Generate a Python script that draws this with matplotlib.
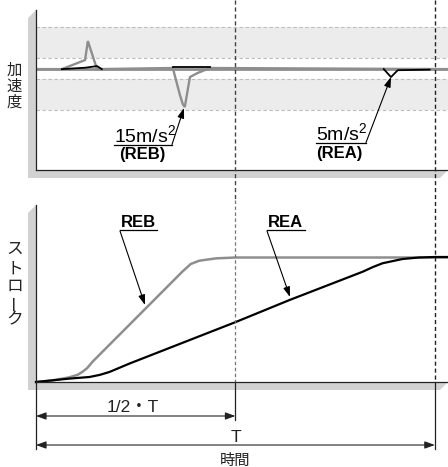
import matplotlib

matplotlib.use("Agg")
import matplotlib.pyplot as plt
from matplotlib.patches import Polygon
from matplotlib.transforms import blended_transform_factory

plt.rcParams["font.family"] = ["Liberation Sans", "Noto Sans CJK JP"]
plt.rcParams["mathtext.fontset"] = "custom"
plt.rcParams["mathtext.rm"] = "Liberation Sans"
plt.rcParams["mathtext.it"] = "Liberation Sans"
plt.rcParams["lines.scale_dashes"] = False

# ---- data (time in units of T, accel in m/s^2, stroke normalised) ----
T_HALF, T_FULL, T_END = 0.5, 1.0, 1.033

reb_acc_t = [0, 0.065, 0.123, 0.130, 0.153, 0.343, 0.361, 0.368, 0.373, 0.386, 0.404, 0.436, 1.033]
reb_acc = [0, 0, 3.3, 10.2, 0, 0.4, -9.5, -12.7, -13.8, -2.9, -1.5, 0.4, 0]
rea_acc_t = [[0.065, 0.123, 0.153, 0.165], [0.343, 0.436], [0.872, 0.890, 0.907, 0.987]]
rea_acc = [[0, 0.5, 1.1, 0], [0.7, 0.7], [0, -2.9, -0.4, -0.2]]
bands = [(4.0, 15.3), (-14.9, -3.6)]

reb_t = [0, 0.04, 0.083, 0.105, 0.117, 0.128, 0.142, 0.367, 0.388, 0.409, 0.451, 0.501, 1.033]
reb_s = [0, 0.012, 0.037, 0.058, 0.083, 0.11, 0.163, 0.883, 0.944, 0.970, 0.989, 0.996, 0.996]
rea_t = [0, 0.083, 0.134, 0.16, 0.184, 0.234, 0.501, 0.635, 0.819, 0.845, 0.869, 0.919, 0.96, 1.0, 1.033]
rea_s = [0, 0.027, 0.04, 0.057, 0.08, 0.147, 0.48, 0.655, 0.882, 0.92, 0.95, 0.984, 0.996, 1.0, 1.0]

GRAY, SHADOW, BAND = "#8e8e8e", "#d2d2d2", "#ececec"
W, H = 448, 467

fig = plt.figure(figsize=(W / 100, H / 100), dpi=100)
bg = fig.add_axes([0, 0, 1, 1], zorder=0)
bg.set_xlim(0, W)
bg.set_ylim(H, 0)
bg.axis("off")
# slab shadows behind both frames
for top, bot in ((10, 170), (205, 382)):
    bg.add_patch(Polygon([(36, top), (28, top + 8), (28, bot + 8), (440, bot + 8),
                          (448, bot), (36, bot)], closed=True, color=SHADOW, lw=0))


def frame(ax):
    ax.patch.set_visible(False)
    for k in ("top", "right"):
        ax.spines[k].set_visible(False)
    for k in ("left", "bottom"):
        ax.spines[k].set_color("#222")
        ax.spines[k].set_linewidth(0.9)
    ax.set_xticks([])
    ax.set_yticks([])
    ax.set_xlim(0, T_END)


# ---- acceleration panel ----
ax_a = fig.add_axes([36 / W, 1 - 170 / H, 412 / W, 160 / H], zorder=1)
frame(ax_a)
ax_a.set_ylim(-36.7, 21.5)
for lo, hi in bands:
    ax_a.axhspan(lo, hi, color=BAND, lw=0)
    for v in (lo, hi):
        ax_a.axhline(v, color="#bdbdbd", lw=0.8, ls=(0, (2.5, 1.8)))
ax_a.axhline(0, color=GRAY, lw=2.0)
ax_a.plot(reb_acc_t, reb_acc, color=GRAY, lw=1.7, solid_joinstyle="miter")
for tt, aa in zip(rea_acc_t, rea_acc):
    ax_a.plot(tt, aa, color="black", lw=1.3)

# ---- stroke panel ----
ax_s = fig.add_axes([36 / W, 1 - 382 / H, 412 / W, 177 / H], zorder=1)
frame(ax_s)
ax_s.set_ylim(0, 1.416)
ax_s.plot(reb_t, reb_s, color=GRAY, lw=1.8, clip_on=False)
ax_s.plot(rea_t, rea_s, color="black", lw=1.6, clip_on=False)

# ---- overlay: guides, dimensions, labels ----
ov = fig.add_axes([0, 0, 1, 1], zorder=2)
ov.set_xlim(0, W)
ov.set_ylim(H, 0)
ov.axis("off")
tr = blended_transform_factory(ax_s.transData, ov.transData)

ov.plot([T_HALF, T_HALF], [0, 200], transform=tr, color="#444", lw=1.0, ls=(0, (3, 2)))
ov.plot([T_HALF, T_HALF], [200, 382], transform=tr, color="#777", lw=0.9, ls=(0, (2.5, 1.8)))
ov.plot([T_FULL, T_FULL], [0, 382], transform=tr, color="#222", lw=1.0, ls=(0, (3, 2)))
ov.plot([0, 0], [382, 449], transform=tr, color="#222", lw=0.9)
ov.plot([T_HALF, T_HALF], [382, 420], transform=tr, color="#222", lw=0.9)
ov.plot([T_FULL, T_FULL], [382, 449], transform=tr, color="#222", lw=0.9)

dim = dict(arrowstyle="<|-|>,head_length=0.55,head_width=0.2", color="#222", lw=0.8,
           mutation_scale=11, shrinkA=0, shrinkB=0)
ov.annotate("", xy=(T_HALF, 416), xytext=(0, 416), xycoords=tr, textcoords=tr, arrowprops=dim)
ov.annotate("", xy=(T_FULL, 445), xytext=(0, 445), xycoords=tr, textcoords=tr, arrowprops=dim)
ov.text(133, 412, "1/2・T", fontsize=12.5, ha="center", va="baseline", color="#222")
ov.text(236, 442, "T", fontsize=12.5, ha="center", va="baseline", color="#222")
ov.text(235, 461, "時間", fontsize=11, ha="center", va="center", color="#222")

# vertical axis titles
for ch, y in zip("加速度", (71, 87, 102.5)):
    ov.text(14.5, y, ch, fontsize=11, ha="center", va="center", color="#222")
for ch, y in zip("ストローク", (249.5, 269, 286, 303, 320)):
    ov.text(14.5, y, ch, fontsize=12, ha="center", va="center", color="#222",
            rotation=90 if ch == "ー" else 0)

lead = dict(arrowstyle="-|>,head_length=0.6,head_width=0.2", color="black", lw=0.8,
            mutation_scale=10, shrinkA=0, shrinkB=0)


def callout(x0, x1, y_line, tip):
    ov.plot([x0, x1], [y_line, y_line], color="black", lw=0.9)
    ov.annotate("", xy=tip, xytext=(x1, y_line), arrowprops=lead)


# accel callouts
ov.text(114, 142, "15m/s$^{2}$", fontsize=14, ha="left", va="baseline")
ov.text(119, 159, "(REB)", fontsize=12, fontweight="bold", ha="left", va="baseline")
callout(114, 172, 144.5, (184, 108))
ov.text(316, 140, "5m/s$^{2}$", fontsize=14, ha="left", va="baseline")
ov.text(316, 158, "(REA)", fontsize=12, fontweight="bold", ha="left", va="baseline")
callout(316, 366, 142.5, (391, 77))

# stroke callouts
for x0, x1, name, tip in ((120, 157, "REB", (145, 305)), (267, 305, "REA", (290, 297))):
    ov.text(x0 + 1, 227, name, fontsize=12, fontweight="bold", ha="left", va="baseline")
    ov.plot([x0, x1], [230, 230], color="black", lw=0.9)
    ov.annotate("", xy=tip, xytext=(x0, 231), arrowprops=lead)

fig.savefig("out.png", dpi=100)
